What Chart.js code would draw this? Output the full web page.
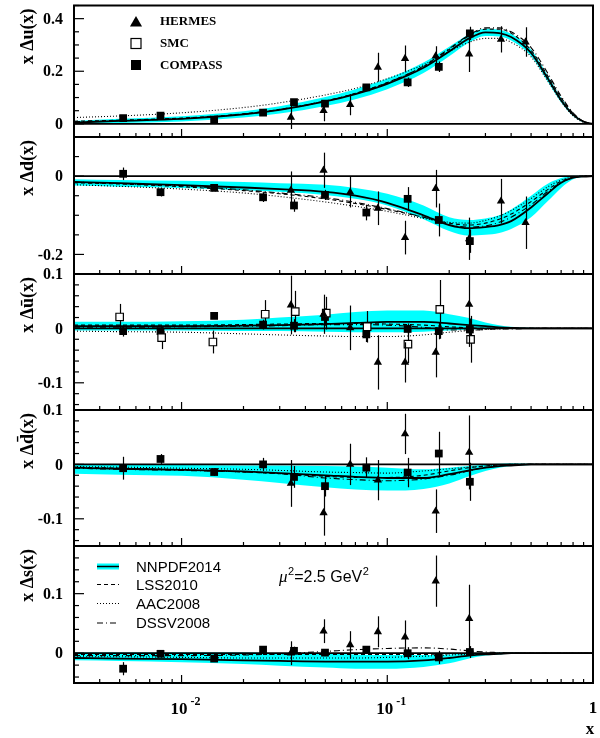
<!DOCTYPE html>
<html lang="en">
<head>
<meta charset="UTF-8">
<title>Polarized quark distributions</title>
<script src="https://cdn.jsdelivr.net/npm/chart.js"></script>
<style>
    body { margin: 0; background: #fff; }
    #wrap { position: relative; width: 600px; height: 738px; }
    #wrap canvas { position: absolute; left: 0; top: 0; }
</style>
</head>
<body>
<div id="wrap">
    <canvas id="c0" width="600" height="738"></canvas>
    <canvas id="c1" width="600" height="738"></canvas>
    <canvas id="c2" width="600" height="738"></canvas>
    <canvas id="c3" width="600" height="738"></canvas>
    <canvas id="c4" width="600" height="738"></canvas>
</div>
<script>
// x grid the curves are read on
const xGrid = [0.003, 0.005, 0.01, 0.02, 0.03, 0.05, 0.07, 0.1, 0.15, 0.2, 0.25, 0.3, 0.35, 0.4, 0.5, 0.6, 0.7, 0.8, 0.9, 1.0];

// x Δu
const uCentral = [0.005, 0.011, 0.019, 0.036, 0.053, 0.085, 0.113, 0.152, 0.213, 0.275, 0.325, 0.348, 0.345, 0.33, 0.27, 0.175, 0.09, 0.035, 0.008, 0];
const uBandLo = [-0.001, 0.003, 0.009, 0.024, 0.039, 0.068, 0.094, 0.132, 0.193, 0.257, 0.309, 0.334, 0.332, 0.317, 0.257, 0.163, 0.081, 0.03, 0.006, 0];
const uBandHi = [0.011, 0.019, 0.029, 0.048, 0.067, 0.102, 0.132, 0.172, 0.233, 0.293, 0.341, 0.362, 0.358, 0.343, 0.283, 0.187, 0.099, 0.04, 0.01, 0];
const uLSS = [0.01, 0.014, 0.022, 0.038, 0.055, 0.087, 0.116, 0.157, 0.218, 0.283, 0.335, 0.36, 0.36, 0.345, 0.28, 0.185, 0.1, 0.04, 0.009, 0];
const uAAC = [0.024, 0.03, 0.042, 0.062, 0.08, 0.11, 0.135, 0.172, 0.225, 0.275, 0.31, 0.325, 0.325, 0.31, 0.255, 0.165, 0.085, 0.03, 0.006, 0];
const uDSSV = [0.008, 0.012, 0.02, 0.037, 0.054, 0.086, 0.115, 0.156, 0.22, 0.286, 0.338, 0.365, 0.365, 0.35, 0.29, 0.195, 0.105, 0.042, 0.01, 0];

// x Δd
const dCentral = [-0.015, -0.018, -0.023, -0.029, -0.033, -0.04, -0.05, -0.068, -0.1, -0.125, -0.133, -0.13, -0.125, -0.115, -0.08, -0.045, -0.017, -0.004, -0.001, 0];
const dBandLo = [-0.024, -0.027, -0.03, -0.036, -0.04, -0.048, -0.058, -0.075, -0.11, -0.14, -0.152, -0.15, -0.145, -0.135, -0.105, -0.065, -0.03, -0.008, -0.002, 0];
const dBandHi = [-0.008, -0.01, -0.012, -0.015, -0.018, -0.022, -0.03, -0.045, -0.075, -0.105, -0.112, -0.108, -0.1, -0.085, -0.05, -0.02, -0.005, 0.001, 0.001, 0];
const dLSS = [-0.017, -0.02, -0.027, -0.037, -0.045, -0.058, -0.07, -0.085, -0.105, -0.12, -0.125, -0.12, -0.11, -0.097, -0.065, -0.035, -0.013, -0.003, 0, 0];
const dAAC = [-0.022, -0.026, -0.033, -0.043, -0.052, -0.066, -0.077, -0.09, -0.108, -0.118, -0.12, -0.113, -0.102, -0.088, -0.057, -0.028, -0.01, -0.002, 0, 0];
const dDSSV = [-0.015, -0.019, -0.025, -0.035, -0.043, -0.055, -0.067, -0.083, -0.105, -0.124, -0.13, -0.127, -0.118, -0.105, -0.073, -0.04, -0.016, -0.004, 0, 0];

// x Δubar
const ubCentral = [0.004, 0.004, 0.004, 0.005, 0.006, 0.008, 0.01, 0.012, 0.012, 0.009, 0.006, 0.004, 0.002, 0.001, 0, 0, 0, 0, 0, 0];
const ubBandLo = [-0.004, -0.004, -0.004, -0.005, -0.005, -0.006, -0.007, -0.007, -0.006, -0.004, -0.002, -0.001, 0, 0, 0, 0, 0, 0, 0, 0];
const ubBandHi = [0.012, 0.012, 0.013, 0.016, 0.02, 0.025, 0.03, 0.033, 0.033, 0.026, 0.019, 0.011, 0.006, 0.003, 0.001, 0, 0, 0, 0, 0];
const ubLSS = [0.006, 0.006, 0.006, 0.007, 0.008, 0.009, 0.009, 0.008, 0.006, 0.003, 0.001, 0, 0, 0, 0, 0, 0, 0, 0, 0];
const ubAAC = [-0.005, -0.006, -0.007, -0.01, -0.012, -0.014, -0.015, -0.015, -0.012, -0.007, -0.004, -0.002, -0.001, 0, 0, 0, 0, 0, 0, 0];
const ubDSSV = [0.002, 0.002, 0.003, 0.004, 0.005, 0.007, 0.007, 0.006, 0.002, -0.003, -0.003, -0.002, -0.001, -0.001, 0, 0, 0, 0, 0, 0];

// x Δdbar
const dbCentral = [-0.006, -0.008, -0.01, -0.013, -0.016, -0.02, -0.023, -0.025, -0.025, -0.018, -0.011, -0.006, -0.003, -0.002, 0, 0, 0, 0, 0, 0];
const dbBandLo = [-0.017, -0.019, -0.021, -0.028, -0.034, -0.042, -0.046, -0.048, -0.045, -0.035, -0.022, -0.012, -0.006, -0.003, -0.001, 0, 0, 0, 0, 0];
const dbBandHi = [-0.001, -0.001, -0.001, -0.002, -0.002, -0.003, -0.004, -0.006, -0.009, -0.006, -0.003, 0, 0.001, 0.002, 0.001, 0, 0, 0, 0, 0];
const dbLSS = [-0.005, -0.007, -0.01, -0.014, -0.017, -0.022, -0.024, -0.024, -0.02, -0.012, -0.006, -0.003, -0.001, 0, 0, 0, 0, 0, 0, 0];
const dbAAC = [-0.004, -0.005, -0.007, -0.009, -0.011, -0.014, -0.015, -0.016, -0.012, -0.008, -0.005, -0.003, -0.001, 0, 0, 0, 0, 0, 0, 0];
const dbDSSV = [-0.007, -0.009, -0.011, -0.014, -0.017, -0.025, -0.028, -0.03, -0.027, -0.02, -0.012, -0.006, -0.003, -0.001, 0, 0, 0, 0, 0, 0];

// x Δs
const sCentral = [-0.008, -0.009, -0.01, -0.012, -0.013, -0.014, -0.014, -0.014, -0.012, -0.008, -0.004, -0.002, -0.001, 0, 0, 0, 0, 0, 0, 0];
const sBandLo = [-0.012, -0.013, -0.015, -0.018, -0.021, -0.024, -0.026, -0.026, -0.023, -0.017, -0.009, -0.004, -0.002, -0.001, 0, 0, 0, 0, 0, 0];
const sBandHi = [0.001, 0.001, 0.001, 0.001, 0, -0.001, -0.002, -0.003, -0.003, -0.002, 0, 0, 0.001, 0.001, 0, 0, 0, 0, 0, 0];
const sLSS = [-0.002, -0.002, -0.002, -0.002, -0.002, -0.002, -0.002, -0.002, -0.002, -0.001, -0.001, 0, 0, 0, 0, 0, 0, 0, 0, 0];
const sAAC = [-0.006, -0.006, -0.007, -0.008, -0.008, -0.008, -0.008, -0.007, -0.005, -0.003, -0.002, -0.001, 0, 0, 0, 0, 0, 0, 0, 0];
const sDSSV = [-0.004, -0.004, -0.004, -0.003, -0.001, 0.003, 0.006, 0.008, 0.009, 0.007, 0.004, 0.002, 0.001, 0, 0, 0, 0, 0, 0, 0];

// data points
const hermesX = [0.034, 0.049, 0.066, 0.090, 0.122, 0.172, 0.250, 0.357, 0.470];
const compassX = [0.0052, 0.0079, 0.0144, 0.0249, 0.0352, 0.0498, 0.0791, 0.1256, 0.178, 0.252];
const smcX = [0.005, 0.008, 0.0142, 0.0255, 0.0357, 0.0505, 0.0798, 0.126, 0.180, 0.254];

const uHermes = [0.025, 0.05, 0.073, 0.215, 0.248, 0.258, 0.265, 0.321, 0.311];
const uHermesErr = [0.045, 0.04, 0.04, 0.055, 0.05, 0.037, 0.068, 0.05, 0.056];
const uCompass = [0.022, 0.031, 0.016, 0.043, 0.083, 0.077, 0.139, 0.158, 0.217, 0.344];
const uCompassErr = [0.006, 0.006, 0.006, 0.007, 0.009, 0.01, 0.012, 0.018, 0.02, 0.025];

const dHermes = [-0.036, 0.015, -0.041, -0.082, -0.157, -0.032, -0.16, -0.064, -0.119];
const dHermesErr = [0.048, 0.045, 0.039, 0.043, 0.043, 0.048, 0.054, 0.057, 0.067];
const dCompass = [0.006, -0.041, -0.03, -0.054, -0.075, -0.048, -0.093, -0.058, -0.112, -0.166];
const dCompassErr = [0.016, 0.011, 0.005, 0.012, 0.016, 0.013, 0.02, 0.03, 0.042, 0.03];

const ubHermes = [0.043, 0.026, 0.001, -0.0625, -0.0625, -0.044, 0.044];
const ubHermesErr = [0.054, 0.036, 0.041, 0.05, 0.037, 0.046, 0.078];
const ubSmc = [0.021, -0.017, -0.025, 0.026, 0.031, 0.028, 0.003, -0.029, 0.035, -0.02];
const ubSmcErr = [0.024, 0.021, 0.021, 0.026, 0.038, 0.03, 0.029, 0.035, 0.054, 0.043];
const ubCompass = [-0.005, -0.005, 0.023, 0.007, 0.005, 0.021, -0.011, -0.001, -0.005, -0.002];
const ubCompassErr = [0.01, 0.01, 0.004, 0.009, 0.012, 0.016, 0.014, 0.01, 0.015, 0.02];

const dbHermes = [-0.035, -0.089, 0.0, -0.029, 0.056, -0.086, 0.022];
const dbHermesErr = [0.043, 0.042, 0.038, 0.037, 0.037, 0.04, 0.068];
const dbCompass = [-0.007, 0.01, -0.014, 0.0, -0.023, -0.04, -0.006, -0.015, 0.02, -0.032];
const dbCompassErr = [0.021, 0.009, 0.007, 0.012, 0.02, 0.019, 0.019, 0.027, 0.04, 0.035];

const sHermes = [0.0, 0.037, 0.014, 0.036, 0.027, 0.121, 0.058];
const sHermesErr = [0.02, 0.02, 0.023, 0.026, 0.028, 0.043, 0.057];
const sCompass = [-0.026, -0.001, -0.009, 0.006, 0.004, 0.001, 0.006, 0.0, -0.007, 0.002];
const sCompassErr = [0.011, 0.004, 0.004, 0.006, 0.007, 0.005, 0.006, 0.01, 0.011, 0.01];

const xMin = 0.003, xMax = 1;
const CYAN = '#00ffff';
const SERIF = '"Liberation Serif", "Times New Roman", serif';
const SANS = '"Liberation Sans", Arial, sans-serif';

const panels = [
    { title: 'x \u0394u(x)', top: 3, bottom: 137, yMin: -0.05, yMax: 0.45, step: 0.05, labels: [0, 0.2, 0.4],
      central: uCentral, lo: uBandLo, hi: uBandHi, lss: uLSS, aac: uAAC, dssv: uDSSV,
      hermes: [uHermes, uHermesErr], compass: [uCompass, uCompassErr] },
    { title: 'x \u0394d(x)', top: 137, bottom: 274, yMin: -0.25, yMax: 0.1, step: 0.05, labels: [0, -0.2],
      central: dCentral, lo: dBandLo, hi: dBandHi, lss: dLSS, aac: dAAC, dssv: dDSSV,
      hermes: [dHermes, dHermesErr], compass: [dCompass, dCompassErr] },
    { title: 'x \u0394\u016B(x)', top: 274, bottom: 410, yMin: -0.15, yMax: 0.1, step: 0.02, labels: [0.1, 0, -0.1],
      central: ubCentral, lo: ubBandLo, hi: ubBandHi, lss: ubLSS, aac: ubAAC, dssv: ubDSSV,
      hermes: [ubHermes, ubHermesErr], smc: [ubSmc, ubSmcErr], compass: [ubCompass, ubCompassErr] },
    { title: 'x \u0394d\u0304(x)', top: 410, bottom: 546, yMin: -0.15, yMax: 0.1, step: 0.02, labels: [0.1, 0, -0.1],
      central: dbCentral, lo: dbBandLo, hi: dbBandHi, lss: dbLSS, aac: dbAAC, dssv: dbDSSV,
      hermes: [dbHermes, dbHermesErr], compass: [dbCompass, dbCompassErr] },
    { title: 'x \u0394s(x)', top: 546, bottom: 683, yMin: -0.05, yMax: 0.18, step: 0.02, labels: [0, 0.1],
      central: sCentral, lo: sBandLo, hi: sBandHi, lss: sLSS, aac: sAAC, dssv: sDSSV,
      hermes: [sHermes, sHermesErr], compass: [sCompass, sCompassErr] }
];

function curve(arr) {
    return xGrid.map((x, i) => ({ x: x, y: arr[i] }));
}
function points(xs, ys) {
    return ys.map((y, i) => ({ x: xs[i], y: y }));
}

// Marker helper used for the hand-drawn legend
function triangle(ctx, x, y, r) {
    ctx.beginPath();
    ctx.moveTo(x, y - r);
    ctx.lineTo(x + r * 0.866, y + r * 0.5);
    ctx.lineTo(x - r * 0.866, y + r * 0.5);
    ctx.closePath();
    ctx.fill();
}

function makePlugin(p, idx) {
    return {
        id: 'panelFrame' + idx,
        // vertical error bars under the markers
        beforeDatasetDraw(chart, args) {
            const ds = chart.data.datasets[args.index];
            if (!ds.errors) return;
            const ctx = chart.ctx, xs = chart.scales.x, ys = chart.scales.y, a = chart.chartArea;
            ctx.save();
            ctx.beginPath();
            ctx.rect(a.left, a.top, a.right - a.left, a.bottom - a.top);
            ctx.clip();
            ctx.strokeStyle = '#000';
            ctx.lineWidth = 1.2;
            ds.data.forEach((pt, i) => {
                const px = Math.round(xs.getPixelForValue(pt.x)) + 0.5;
                ctx.beginPath();
                ctx.moveTo(px, ys.getPixelForValue(pt.y - ds.errors[i]));
                ctx.lineTo(px, ys.getPixelForValue(pt.y + ds.errors[i]));
                ctx.stroke();
            });
            ctx.restore();
        },
        afterDraw(chart) {
            const ctx = chart.ctx, xs = chart.scales.x, ys = chart.scales.y, a = chart.chartArea;
            ctx.save();
            ctx.strokeStyle = '#000';
            ctx.fillStyle = '#000';
            // frame
            ctx.lineWidth = 2;
            ctx.strokeRect(a.left, a.top, a.right - a.left, a.bottom - a.top);

            // y ticks, pointing inwards
            ctx.lineWidth = 1.2;
            ctx.font = 'bold 16px ' + SERIF;
            ctx.textAlign = 'right';
            ctx.textBaseline = 'middle';
            const n0 = Math.ceil(p.yMin / p.step - 1e-6), n1 = Math.floor(p.yMax / p.step + 1e-6);
            for (let n = n0; n <= n1; n++) {
                const v = n * p.step;
                const py = ys.getPixelForValue(v);
                const major = p.labels.some(l => Math.abs(l - v) < 1e-6);
                ctx.beginPath();
                ctx.moveTo(a.left, py);
                ctx.lineTo(a.left + (major ? 10 : 5), py);
                ctx.stroke();
                if (major) {
                    const txt = Math.abs(v) < 1e-9 ? '0' : String(Math.round(v * 100) / 100);
                    ctx.fillText(txt, 63, py + 1);
                }
            }

            // x ticks on the bottom edge, pointing up
            [0.001, 0.01, 0.1].forEach(dec => {
                for (let m = 1; m <= 9; m++) {
                    const v = m * dec;
                    if (v < xMin - 1e-9 || v > xMax + 1e-9) continue;
                    const px = xs.getPixelForValue(v);
                    ctx.beginPath();
                    ctx.moveTo(px, a.bottom);
                    ctx.lineTo(px, a.bottom - (m === 1 ? 8 : 4));
                    ctx.stroke();
                }
            });

            // axis title, rotated, aligned to the top of the panel
            ctx.save();
            ctx.translate(28, a.top + 3);
            ctx.rotate(-Math.PI / 2);
            ctx.font = 'bold 18px ' + SERIF;
            ctx.textAlign = 'right';
            ctx.textBaseline = 'middle';
            ctx.fillText(p.title, 0, 0);
            ctx.restore();

            if (idx === 0) {
                // experiment legend
                ctx.font = 'bold 13px ' + SERIF;
                ctx.textAlign = 'left';
                ctx.textBaseline = 'middle';
                triangle(ctx, 136, 23, 7);
                ctx.fillText('HERMES', 160, 22);
                ctx.lineWidth = 1.2;
                ctx.fillStyle = '#fff';
                ctx.fillRect(131, 38.5, 10, 10);
                ctx.strokeRect(131, 38.5, 10, 10);
                ctx.fillStyle = '#000';
                ctx.fillText('SMC', 160, 44);
                ctx.fillRect(131, 60, 10, 10);
                ctx.fillText('COMPASS', 160, 65.5);
            }

            if (idx === 4) {
                // x axis labels
                ctx.textBaseline = 'alphabetic';
                [[0.01, '-2'], [0.1, '-1']].forEach(([v, e]) => {
                    const px = xs.getPixelForValue(v);
                    ctx.font = 'bold 17px ' + SERIF;
                    ctx.textAlign = 'right';
                    ctx.fillText('10', px + 6, 714);
                    ctx.font = 'bold 12px ' + SERIF;
                    ctx.textAlign = 'left';
                    ctx.fillText(e, px + 9, 705);
                });
                ctx.font = 'bold 17px ' + SERIF;
                ctx.textAlign = 'center';
                ctx.fillText('1', 593, 713);
                ctx.fillText('x', 590, 734);

                // model legend
                const lx0 = 97, lx1 = 119;
                const rows = [566.5, 584.5, 603.5, 623];
                ctx.fillStyle = CYAN;
                ctx.fillRect(lx0, rows[0] - 3, lx1 - lx0, 6);
                ctx.strokeStyle = '#000';
                ctx.lineWidth = 1.5;
                ctx.beginPath(); ctx.moveTo(lx0, rows[0]); ctx.lineTo(lx1, rows[0]); ctx.stroke();
                ctx.lineWidth = 1.1;
                [[4, 3], [1, 2], [6, 3, 1, 3]].forEach((dash, k) => {
                    ctx.setLineDash(dash);
                    ctx.beginPath(); ctx.moveTo(lx0, rows[k + 1]); ctx.lineTo(lx1, rows[k + 1]); ctx.stroke();
                });
                ctx.setLineDash([]);
                ctx.fillStyle = '#000';
                ctx.font = '15px ' + SANS;
                ctx.textAlign = 'left';
                ctx.textBaseline = 'middle';
                ['NNPDF2014', 'LSS2010', 'AAC2008', 'DSSV2008'].forEach((t, k) => ctx.fillText(t, 136, rows[k] + 1));

                // scale annotation
                ctx.textBaseline = 'alphabetic';
                let tx = 279;
                ctx.font = 'italic 17px ' + SERIF;
                ctx.fillText('\u03BC', tx, 582);
                tx += ctx.measureText('\u03BC').width + 0.5;
                ctx.font = '11px ' + SANS;
                ctx.fillText('2', tx, 575);
                tx += ctx.measureText('2').width;
                ctx.font = '16px ' + SANS;
                ctx.fillText('=2.5 GeV', tx, 582);
                tx += ctx.measureText('=2.5 GeV').width + 0.5;
                ctx.font = '11px ' + SANS;
                ctx.fillText('2', tx, 575);
            }
            ctx.restore();
        }
    };
}

panels.forEach((p, idx) => {
    const datasets = [];
    if (p.hermes) {
        datasets.push({ label: 'HERMES', data: points(hermesX, p.hermes[0]), errors: p.hermes[1],
            showLine: false, pointStyle: 'triangle', pointRadius: 4.8, backgroundColor: '#000', borderColor: '#000', borderWidth: 0, order: 0 });
    }
    if (p.smc) {
        datasets.push({ label: 'SMC', data: points(smcX, p.smc[0]), errors: p.smc[1],
            showLine: false, pointStyle: 'rect', pointRadius: 5.3, backgroundColor: '#fff', borderColor: '#000', borderWidth: 1.2, order: 0 });
    }
    if (p.compass) {
        datasets.push({ label: 'COMPASS', data: points(compassX, p.compass[0]), errors: p.compass[1],
            showLine: false, pointStyle: 'rect', pointRadius: 5.5, backgroundColor: '#000', borderColor: '#000', borderWidth: 0, order: 0 });
    }
    datasets.push({ label: 'NNPDF2014', data: curve(p.central), borderColor: '#000', borderWidth: 1.8, pointRadius: 0, fill: false, order: 1 });
    datasets.push({ label: 'LSS2010', data: curve(p.lss), borderColor: '#000', borderWidth: 1.1, borderDash: [4, 3], pointRadius: 0, fill: false, order: 2 });
    datasets.push({ label: 'AAC2008', data: curve(p.aac), borderColor: '#000', borderWidth: 1.1, borderDash: [1, 2], pointRadius: 0, fill: false, order: 2 });
    datasets.push({ label: 'DSSV2008', data: curve(p.dssv), borderColor: '#000', borderWidth: 1.1, borderDash: [6, 3, 1, 3], pointRadius: 0, fill: false, order: 2 });
    datasets.push({ label: 'zero', data: [{ x: xMin, y: 0 }, { x: xMax, y: 0 }], borderColor: '#000', borderWidth: 1.8, pointRadius: 0, fill: false, order: 3 });
    datasets.push({ label: 'band lo', data: curve(p.lo), borderWidth: 0, borderColor: CYAN, pointRadius: 0, fill: false, order: 10 });
    datasets.push({ label: 'band hi', data: curve(p.hi), borderWidth: 0, borderColor: CYAN, backgroundColor: CYAN, pointRadius: 0, fill: '-1', order: 9 });

    new Chart(document.getElementById('c' + idx), {
        type: 'line',
        data: { datasets: datasets },
        options: {
            responsive: false,
            animation: false,
            devicePixelRatio: 1,
            layout: { padding: { left: 74, right: 7, top: p.top, bottom: 738 - p.bottom } },
            scales: {
                x: { type: 'logarithmic', min: xMin, max: xMax, display: false },
                y: { type: 'linear', min: p.yMin, max: p.yMax, display: false }
            },
            elements: { line: { cubicInterpolationMode: 'monotone' } },
            plugins: { legend: { display: false }, tooltip: { enabled: false } }
        },
        plugins: [makePlugin(p, idx)]
    });
});
</script>
</body>
</html>
